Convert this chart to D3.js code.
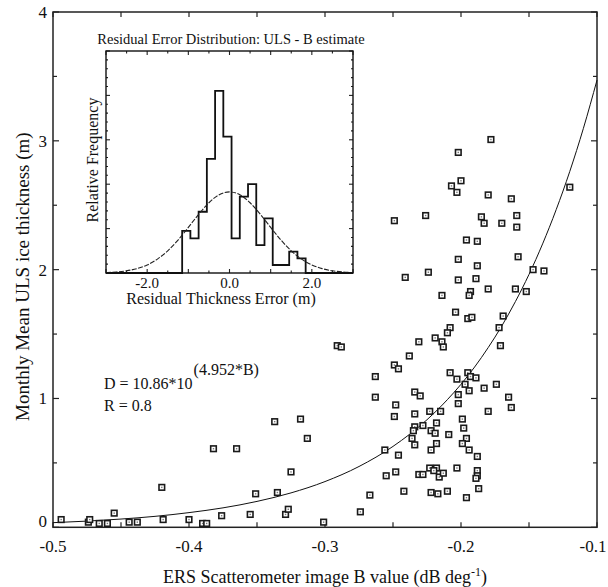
<!DOCTYPE html>
<html>
<head>
<meta charset="utf-8">
<script src="https://cdn.jsdelivr.net/npm/d3@7"></script>
<style>
  body { margin: 0; background: #fff; }
  #chart { width: 608px; height: 587px; }
  text { font-family: "Liberation Serif", "Times New Roman", serif; fill: #111; }
</style>
</head>
<body>
<div id="chart"></div>
<script>
"use strict";

// scatter: ERS B value vs monthly mean ULS thickness
const bValues = [
  -0.178, -0.202, -0.200, -0.207, -0.203, -0.180, -0.163, -0.120, -0.249, -0.226,
  -0.185, -0.183, -0.170, -0.159, -0.159, -0.196, -0.188, -0.202, -0.188, -0.158,
  -0.147, -0.139, -0.241, -0.224, -0.202, -0.189, -0.180, -0.160, -0.152, -0.214,
  -0.193, -0.194, -0.204, -0.195, -0.192, -0.169, -0.172, -0.171, -0.208, -0.210,
  -0.219, -0.214, -0.213, -0.231, -0.291, -0.288, -0.238, -0.249, -0.246, -0.263,
  -0.208, -0.203, -0.195, -0.193, -0.189, -0.197, -0.183, -0.174, -0.165, -0.163,
  -0.180, -0.194, -0.202, -0.202, -0.263, -0.234, -0.230, -0.248, -0.249, -0.234,
  -0.223, -0.215, -0.199, -0.198, -0.218, -0.228, -0.234, -0.235, -0.222, -0.219,
  -0.209, -0.236, -0.234, -0.218, -0.222, -0.196, -0.199, -0.194, -0.188, -0.256,
  -0.246, -0.313, -0.318, -0.337, -0.223, -0.218, -0.220, -0.216, -0.213, -0.203,
  -0.188, -0.188, -0.189, -0.231, -0.228, -0.248, -0.255, -0.187, -0.210, -0.222,
  -0.217, -0.242, -0.267, -0.196, -0.274, -0.301, -0.325, -0.382, -0.365, -0.420,
  -0.351, -0.335, -0.494, -0.474, -0.473, -0.466, -0.460, -0.455, -0.444, -0.438,
  -0.419, -0.400, -0.390, -0.387, -0.376, -0.355, -0.329, -0.327,
];
const thickness = [
  3.01, 2.91, 2.69, 2.65, 2.60, 2.58, 2.55, 2.64, 2.38, 2.42,
  2.41, 2.36, 2.36, 2.42, 2.33, 2.23, 2.22, 2.08, 2.03, 2.10,
  2.00, 1.99, 1.94, 1.98, 1.92, 1.93, 1.85, 1.85, 1.83, 1.80,
  1.83, 1.80, 1.67, 1.62, 1.63, 1.64, 1.55, 1.41, 1.55, 1.51,
  1.47, 1.44, 1.40, 1.44, 1.41, 1.40, 1.33, 1.26, 1.23, 1.17,
  1.20, 1.15, 1.20, 1.17, 1.16, 1.11, 1.08, 1.11, 1.01, 0.93,
  0.90, 1.06, 1.03, 0.96, 1.01, 1.05, 1.02, 0.95, 0.86, 0.88,
  0.90, 0.90, 0.84, 0.77, 0.81, 0.79, 0.78, 0.75, 0.75, 0.73,
  0.72, 0.69, 0.64, 0.65, 0.60, 0.69, 0.65, 0.60, 0.55, 0.60,
  0.56, 0.69, 0.84, 0.82, 0.46, 0.46, 0.44, 0.39, 0.42, 0.46,
  0.44, 0.40, 0.38, 0.41, 0.41, 0.43, 0.40, 0.30, 0.28, 0.27,
  0.26, 0.28, 0.25, 0.23, 0.12, 0.04, 0.43, 0.61, 0.61, 0.31,
  0.26, 0.27, 0.06, 0.04, 0.06, 0.03, 0.03, 0.11, 0.04, 0.04,
  0.06, 0.06, 0.03, 0.03, 0.09, 0.10, 0.10, 0.14,
];

// fitted curve D = 10.86*10^(4.952*B), sampled
const fitB = [-0.5, -0.475, -0.45, -0.425, -0.4, -0.375, -0.35, -0.325, -0.3, -0.275,
  -0.25, -0.225, -0.21, -0.2, -0.19, -0.18, -0.17, -0.16, -0.15, -0.14, -0.13,
  -0.12, -0.11, -0.1];
const fitD = [0.036, 0.048, 0.064, 0.085, 0.114, 0.151, 0.201, 0.267, 0.355, 0.472,
  0.628, 0.835, 0.991, 1.110, 1.244, 1.395, 1.563, 1.752, 1.963, 2.200, 2.466,
  2.763, 3.097, 3.471];

// inset histogram of residuals
const binEdges = [-1.15, -0.95, -0.75, -0.55, -0.35, -0.15, 0.05, 0.25, 0.45, 0.65,
  0.85, 1.05, 1.25, 1.45, 1.65, 1.85];
const binFreq = [0.95, 0.78, 1.38, 2.57, 4.10, 3.07, 0.78, 1.72, 2.00, 0.63,
  1.23, 0.18, 0.18, 0.48, 0.33];

// normal curve drawn over the histogram
const normX = [-3, -2.75, -2.5, -2.25, -2, -1.75, -1.5, -1.25, -1, -0.75, -0.5, -0.25,
  0, 0.25, 0.5, 0.75, 1, 1.25, 1.5, 1.75, 2, 2.25, 2.5, 2.75, 3];
const normY = [0.009, 0.021, 0.046, 0.093, 0.174, 0.303, 0.490, 0.735, 1.025, 1.327,
  1.596, 1.783, 1.85, 1.783, 1.596, 1.327, 1.025, 0.735, 0.490, 0.303, 0.174, 0.093,
  0.046, 0.021, 0.009];

const xTicks = [-0.5, -0.4, -0.3, -0.2, -0.1];
const yTicks = [0, 1, 2, 3, 4];
const insetXTicks = [-2, 0, 2];

window.addEventListener("load", draw);

function draw() {
  const W = 608, H = 587;
  const m = { top: 12, right: 11, bottom: 60, left: 53 };

  const svg = d3.select("#chart").append("svg")
    .attr("width", W).attr("height", H);

  const x = d3.scaleLinear().domain([-0.5, -0.1]).range([m.left, W - m.right]);
  const y = d3.scaleLinear().domain([0, 4]).range([H - m.bottom + 0.3, m.top]);

  // inward ticks on all four sides
  const minorX = d3.range(-0.5, -0.099, 0.05);
  const minorY = d3.range(0, 4.01, 0.5);
  const tickG = svg.append("g").attr("stroke", "#222").attr("stroke-width", 1.2);
  minorX.forEach((v) => {
    tickG.append("line").attr("x1", x(v)).attr("x2", x(v))
      .attr("y1", y(0)).attr("y2", y(0) - 5);
    tickG.append("line").attr("x1", x(v)).attr("x2", x(v))
      .attr("y1", y(4)).attr("y2", y(4) + 5);
  });
  minorY.forEach((v) => {
    const len = Number.isInteger(v) ? 6 : 4;
    tickG.append("line").attr("x1", x(-0.5)).attr("x2", x(-0.5) + len)
      .attr("y1", y(v)).attr("y2", y(v));
    tickG.append("line").attr("x1", x(-0.1)).attr("x2", x(-0.1) - len)
      .attr("y1", y(v)).attr("y2", y(v));
  });

  // tick labels; the last one is pulled in so it stays on the page
  svg.append("g").selectAll("text").data(xTicks).enter().append("text")
    .attr("x", (d) => Math.min(x(d), W - 15)).attr("y", y(0) + 25)
    .attr("text-anchor", "middle").attr("font-size", 17)
    .text((d) => d.toFixed(1));
  svg.append("g").selectAll("text").data(yTicks).enter().append("text")
    .attr("x", m.left - 6).attr("y", (d) => (d === 0 ? y(d) : y(d) + 6))
    .attr("text-anchor", "end").attr("font-size", 17)
    .text((d) => d);

  // frame
  svg.append("rect")
    .attr("x", x(-0.5)).attr("y", y(4))
    .attr("width", x(-0.1) - x(-0.5)).attr("height", y(0) - y(4))
    .attr("fill", "none").attr("stroke", "#222").attr("stroke-width", 1.5);

  // axis titles
  const xt = svg.append("text")
    .attr("x", (x(-0.5) + x(-0.1)) / 2).attr("y", H - 4)
    .attr("text-anchor", "middle").attr("font-size", 18);
  xt.append("tspan").text("ERS Scatterometer image B value (dB deg");
  xt.append("tspan").attr("dy", -7).attr("font-size", 12).text("-1");
  xt.append("tspan").attr("dy", 7).text(")");

  svg.append("text")
    .attr("transform", `translate(29, ${(y(0) + y(4)) / 2 + 7}) rotate(-90)`)
    .attr("text-anchor", "middle").attr("font-size", 19)
    .text("Monthly Mean ULS ice thickness (m)");

  // fit curve
  const fitLine = d3.line()
    .x((d, i) => x(fitB[i]))
    .y((d, i) => y(fitD[i]))
    .curve(d3.curveMonotoneX);
  svg.append("path").datum(fitB).attr("d", fitLine)
    .attr("fill", "none").attr("stroke", "#111").attr("stroke-width", 1);

  // points
  const pts = svg.append("g");
  bValues.forEach((b, i) => {
    const cx = x(b), cy = y(thickness[i]);
    pts.append("rect")
      .attr("x", cx - 2.8).attr("y", cy - 2.8).attr("width", 5.6).attr("height", 5.6)
      .attr("fill", "#fff").attr("stroke", "#1a1a1a").attr("stroke-width", 1.6);
    pts.append("rect")
      .attr("x", cx - 0.7).attr("y", cy - 0.7).attr("width", 1.4).attr("height", 1.4)
      .attr("fill", "#777");
  });

  // equation
  const eq = svg.append("text").attr("x", 104).attr("y", 389).attr("font-size", 16);
  eq.append("tspan").text("D = 10.86*10");
  eq.append("tspan").attr("dy", -14).attr("dx", 1).attr("font-size", 16)
    .text("(4.952*B)");
  svg.append("text").attr("x", 104).attr("y", 411).attr("font-size", 16)
    .text("R = 0.8");

  drawInset(svg);
}

function drawInset(svg) {
  const left = 106, right = 353, top = 51, bottom = 273;
  const ix = d3.scaleLinear().domain([-3, 3]).range([left, right]);
  const iy = d3.scaleLinear().domain([0, 5]).range([bottom, top]);

  const g = svg.append("g");
  g.append("rect").attr("x", left).attr("y", top)
    .attr("width", right - left).attr("height", bottom - top)
    .attr("fill", "#fff");

  // step outline
  const steps = [{ x: -3, y: 0 }];
  binEdges.forEach((e, i) => {
    steps.push({ x: e, y: i < binFreq.length ? binFreq[i] : 0 });
  });
  steps.push({ x: 3, y: 0 });
  const stepLine = d3.line().x((d) => ix(d.x)).y((d) => iy(d.y))
    .curve(d3.curveStepAfter);
  g.append("path").datum(steps).attr("d", stepLine)
    .attr("fill", "none").attr("stroke", "#111").attr("stroke-width", 1.8);

  // normal curve
  const normLine = d3.line()
    .x((d, i) => ix(normX[i]))
    .y((d, i) => iy(normY[i]))
    .curve(d3.curveBasis);
  g.append("path").datum(normX).attr("d", normLine)
    .attr("fill", "none").attr("stroke", "#222").attr("stroke-width", 1.1)
    .attr("stroke-dasharray", "5,1.5");

  // ticks
  const tg = g.append("g").attr("stroke", "#222").attr("stroke-width", 1.1);
  d3.range(-3, 3.01, 0.5).forEach((v) => {
    const len = Number.isInteger(v) ? 4 : 2.5;
    tg.append("line").attr("x1", ix(v)).attr("x2", ix(v))
      .attr("y1", bottom).attr("y2", bottom - len);
    tg.append("line").attr("x1", ix(v)).attr("x2", ix(v))
      .attr("y1", top).attr("y2", top + len);
  });
  d3.range(0, 5.01, 0.2).forEach((v) => {
    const major = Math.abs(v - Math.round(v)) < 1e-6;
    const len = major ? 4 : 2;
    tg.append("line").attr("x1", left).attr("x2", left + len)
      .attr("y1", iy(v)).attr("y2", iy(v));
    tg.append("line").attr("x1", right).attr("x2", right - len)
      .attr("y1", iy(v)).attr("y2", iy(v));
  });

  g.append("rect").attr("x", left).attr("y", top)
    .attr("width", right - left).attr("height", bottom - top)
    .attr("fill", "none").attr("stroke", "#111").attr("stroke-width", 1.4);

  g.append("g").selectAll("text").data(insetXTicks).enter().append("text")
    .attr("x", (d) => ix(d)).attr("y", bottom + 15)
    .attr("text-anchor", "middle").attr("font-size", 15)
    .text((d) => d.toFixed(1));

  g.append("text").attr("x", 221).attr("y", bottom + 31)
    .attr("text-anchor", "middle").attr("font-size", 16)
    .text("Residual Thickness Error (m)");

  g.append("text").attr("x", 231).attr("y", top - 7)
    .attr("text-anchor", "middle").attr("font-size", 14.5)
    .text("Residual Error Distribution: ULS - B estimate");

  g.append("text")
    .attr("transform", `translate(98, ${(top + bottom) / 2 - 2}) rotate(-90)`)
    .attr("text-anchor", "middle").attr("font-size", 16)
    .text("Relative Frequency");
}
</script>
</body>
</html>
